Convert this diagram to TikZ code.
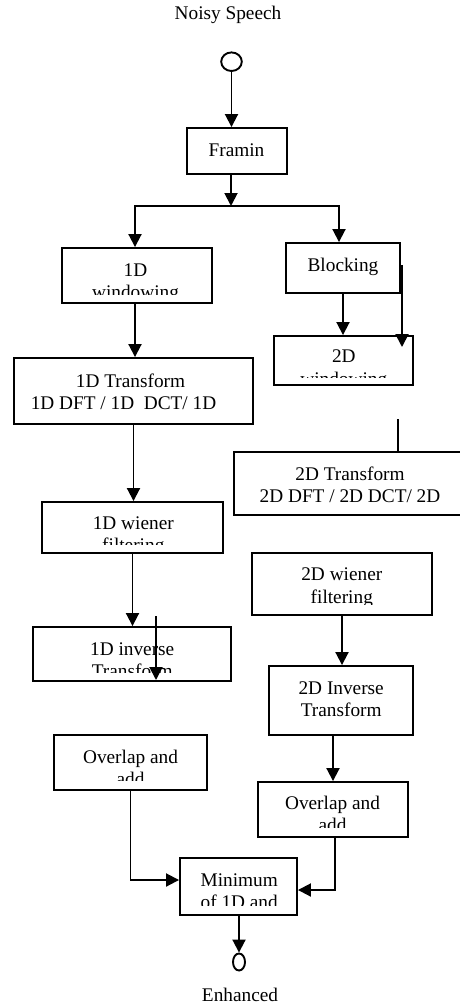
\documentclass[tikz,border=0pt]{standalone}
\usepackage{fontspec}
\setmainfont{Liberation Serif}
\usetikzlibrary{arrows.meta,shapes.geometric}
\tikzset{
  flow/.style={draw, line width=1.9pt, inner sep=0pt},
  lbl/.style={anchor=base, inner sep=0pt, align=center, font=\fontsize{19.3}{22.3}\selectfont},
  conn/.style={line width=1.9pt},
  arr/.style={conn, -{Triangle[length=13pt,width=13pt]}},
  term/.style={draw, ellipse, line width=1.9pt, inner sep=0pt},
}
\begin{document}
\begin{tikzpicture}[x=1pt,y=-1pt]
\useasboundingbox (0,0) rectangle (460,1006);
\clip (0,0) rectangle (460,1006);
\fill[white] (0,0) rectangle (460,1006);

% title texts
\node[lbl] (noisy) at (228,20) {Noisy Speech};
\node[lbl] (enh) at (240,1001) {Enhanced};

% terminals
\node[term, minimum width=20.6pt, minimum height=18.6pt] (start) at (231.5,61.7) {};
\node[term, minimum width=12pt, minimum height=17pt] (stop) at (239,962) {};

% boxes
\node[flow, minimum width=100pt, minimum height=46pt] (framin) at (237,151) {};
\node[flow, minimum width=150pt, minimum height=55pt] (win1) at (137,275.5) {};
\node[flow, minimum width=114pt, minimum height=50pt] (block) at (343,268) {};
\node[flow, minimum width=139pt, minimum height=49pt] (win2) at (343.5,360.5) {};
\node[flow, minimum width=239pt, minimum height=66pt] (tr1) at (133.5,391) {};
\node[flow, minimum width=233pt, minimum height=63pt] (tr2) at (350.5,483.5) {};
\node[flow, minimum width=181pt, minimum height=51pt] (wien1) at (132.5,527.5) {};
\node[flow, minimum width=180pt, minimum height=62pt] (wien2) at (342,584) {};
\node[flow, minimum width=198pt, minimum height=54pt] (inv1) at (132,654) {};
\node[flow, minimum width=144pt, minimum height=69pt] (inv2) at (341,700.5) {};
\node[flow, minimum width=153pt, minimum height=55pt] (ola1) at (130.5,762.5) {};
\node[flow, minimum width=150pt, minimum height=55pt] (ola2) at (333,809.5) {};
\node[flow, minimum width=117pt, minimum height=57pt] (mini) at (238.5,886.5) {};

% box texts (clipped like the original text frames); base = last line
\node[lbl] (framinT) at (236.5,156) {Framin};
\node[lbl] (blockT) at (343,271) {Blocking};
\begin{scope}
  \clip (62,248) rectangle (212,294);
  \node[lbl] (win1T) at (135.5,298.3) {1D\\windowing};
\end{scope}
\begin{scope}
  \clip (274,336) rectangle (413,377);
  \node[lbl] (win2T) at (343.8,385) {2D\\windowing};
\end{scope}
\node[lbl] (tr1T) at (130.5,409.5) {1D Transform\\1D DFT / 1D\ \ DCT/ 1D\hspace*{14pt}};
\node[lbl] (tr2T) at (350,502.4) {2D Transform\\2D DFT / 2D DCT/ 2D};
\begin{scope}
  \clip (42,502) rectangle (223,544);
  \node[lbl] (wien1T) at (133.3,551.6) {1D wiener\\filtering};
\end{scope}
\begin{scope}
  \clip (252,553) rectangle (432,604.5);
  \node[lbl] (wien2T) at (341.8,603) {2D wiener\\filtering};
\end{scope}
\begin{scope}
  \clip (33,627) rectangle (231,672.7);
  \node[lbl] (inv1T) at (132.2,677.3) {1D inverse\\Transform};
\end{scope}
\node[lbl] (inv2T) at (341.2,716.6) {2D Inverse\\Transform};
\begin{scope}
  \clip (54,735) rectangle (207,780);
  \node[lbl] (ola1T) at (130.5,785.6) {Overlap and\\add};
\end{scope}
\begin{scope}
  \clip (258,782) rectangle (408,827.3);
  \node[lbl] (ola2T) at (332.5,831.6) {Overlap and\\add};
\end{scope}
\begin{scope}
  \clip (180,858) rectangle (297,905);
  \node[lbl] (miniT) at (239.2,908.3) {Minimum\\of 1D and};
\end{scope}

% connectors
\coordinate (split) at (231,206);
\draw[arr] (start.south) -- (start.south |- framin.north);
\draw[arr] (framin.south -| split) -- (split);
\draw[arr] (split) -| ([xshift=-2pt]win1.north);
\draw[arr] (split) -| ([xshift=-4pt]block.north);
\draw[arr] ([xshift=-2pt]win1.south) -- ([xshift=-2pt]win1.south |- tr1.north);
\draw[arr] (block.south) -- (block.south |- win2.north);
\coordinate (s1a) at (402,265);
\coordinate (s1b) at (402,347);
\draw[arr] (s1a) -- (s1b);
\draw[arr] (tr1.south) -- (tr1.south |- wien1.north);
\coordinate (t1) at (398,419);
\coordinate (t2) at (398,451.5);
\draw[conn] (t1) -- (t2);
\draw[conn] ([xshift=-6pt]t2) -- ([xshift=6pt]t2);
\draw[arr] (wien1.south) -- (wien1.south |- inv1.north);
\coordinate (s2a) at (156,616);
\coordinate (s2b) at (156,680);
\draw[arr] (s2a) -- (s2b);
\draw[arr] (wien2.south) -- (wien2.south |- inv2.north);
\draw[arr] (ola2.north |- inv2.south) -- (ola2.north);
\draw[arr] (ola1.south) |- ([yshift=6.5pt]mini.west);
\draw[arr] ([xshift=2pt]ola2.south) |- ([yshift=-3.5pt]mini.east);
\draw[arr] (stop.north |- mini.south) -- (stop.north);
\end{tikzpicture}
\end{document}
